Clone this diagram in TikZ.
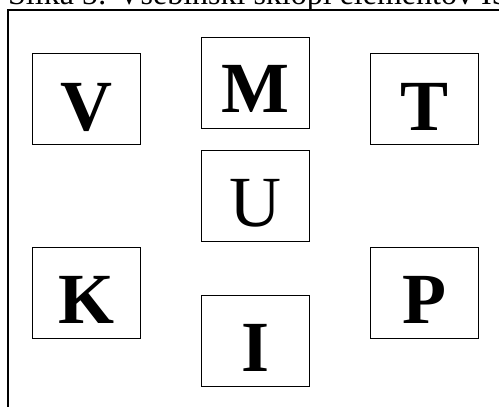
\documentclass[tikz,border=0pt]{standalone}
\usepackage{fontspec}
\setmainfont{Liberation Serif}
\begin{document}
\begin{tikzpicture}[x=1pt,y=1pt,
  elbox/.style={draw,line width=1pt,minimum width=108.5pt,minimum height=91pt,inner sep=0pt,anchor=north west},
  ellet/.style={font=\fontsize{72}{72}\selectfont\bfseries,anchor=base},
  ellreg/.style={font=\fontsize{72}{72}\selectfont,anchor=base}]
\useasboundingbox (0,0) rectangle (499,-407);
\clip (0,0) rectangle (499,-407);
% caption (cut off at top)
\node[anchor=base west,inner sep=0pt,font=\fontsize{32}{32}\selectfont] (cap) at (8,-4) {Slika 5: Vsebinski sklopi elementov IS};
% frame
\draw[line width=2pt] (520,-10) -- (8.3,-10) -- (8.3,-420);
% boxes
\node[elbox] (V) at (31.7,-53.3) {};
\node[elbox] (T) at (369.8,-53.3) {};
\node[elbox] (K) at (31.7,-246.7) {};
\node[elbox] (P) at (369.8,-246.7) {};
\node[elbox] (M) at (200.7,-36.7) {};
\node[elbox] (U) at (200.7,-150) {};
\node[elbox] (I) at (200.7,-295) {};
% letters
\node[ellet] (lV) at ([yshift=-77.4pt]V.north) {V};
\node[ellet] (lT) at ([yshift=-77.4pt]T.north) {T};
\node[ellet] (lK) at ([yshift=-77pt]K.north) {K};
\node[ellet] (lP) at ([yshift=-77pt]P.north) {P};
\node[ellet] (lM) at ([yshift=-76pt]M.north) {M};
\node[ellreg] (lU) at ([yshift=-76pt]U.north) {U};
\node[ellet] (lI) at ([yshift=-76pt]I.north) {I};
\end{tikzpicture}
\end{document}
